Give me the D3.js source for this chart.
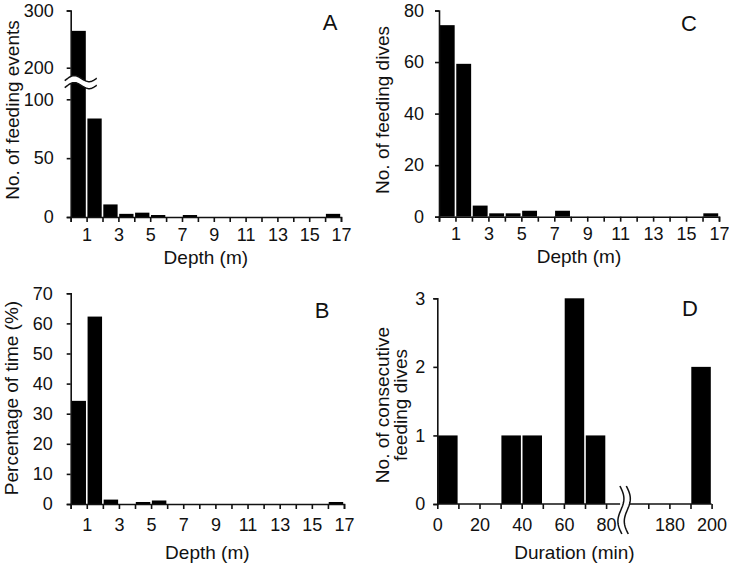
<!DOCTYPE html>
<html><head><meta charset="utf-8">
<script src="https://cdn.jsdelivr.net/npm/d3@7"></script>
<style>
body{margin:0;background:#fff}
svg{display:block}
text{font-family:"Liberation Sans",Arial,Helvetica,sans-serif;fill:#111}
</style>
</head><body>
<svg id="c" width="729" height="572"></svg>
<script>
// ---------------- data ----------------
const depthBinStart = [0,1,2,3,4,5,6,7,8,9,10,11,12,13,14,15,16];
const depthTickValues = [0,1,2,3,4,5,6,7,8,9,10,11,12,13,14,15,16,17];
const depthTickLabels = [1,3,5,7,9,11,13,15,17];
const feedingEventsA = [263,83,10,2,3,1,0,1,0,0,0,0,0,0,0,0,2];
const percentTimeB  = [34,62,1.2,0,0.4,0.9,0,0,0,0,0,0,0,0,0,0,0.4];
const feedingDivesC = [74,59,4,1,1,2,0,2,0,0,0,0,0,0,0,0,1];
const durBinStart = [0,30,40,60,70,190];
const durCounts   = [1,1,1,3,1,2];
const durBinWidth = 10;
const durTickValues = [0,10,20,30,40,50,60,70,80,170,180,190,200];
const durTickLabels = [0,20,40,60,80,180,200];
const yTicksA = [0,50,100,200,300];
const yTicksB = [0,10,20,30,40,50,60,70];
const yTicksC = [0,20,40,60,80];
const yTicksD = [0,1,2,3];

// ---------------- drawing ----------------
const svg = d3.select("#c");
const INK = "#111";
const TICKFS = 18, TITLEFS = 19, LETTERFS = 22;

function styleAxis(g){
  g.select(".domain").attr("stroke", INK).attr("stroke-width", 1.6);
  g.selectAll(".tick line").attr("stroke", INK).attr("stroke-width", 1.6);
  g.selectAll(".tick text").attr("font-size", TICKFS)
    .attr("font-family", '"Liberation Sans",Arial,sans-serif').attr("fill", INK);
}

function depthPanel(cfg){
  const g = svg.append("g");
  const x = d3.scaleLinear().domain([0,17]).range([cfg.x0, cfg.x1]);
  const y = cfg.y;
  g.selectAll("rect.bar").data(cfg.values.map((v,i)=>({s:depthBinStart[i], v})))
    .join("rect").attr("class","bar")
    .attr("x", d => x(d.s) + 0.8)
    .attr("width", d => x(d.s+1) - x(d.s) - 1.6)
    .attr("y", d => y(d.v) - (d.v>0?0.8:0))
    .attr("height", d => d.v>0 ? y(0) - y(d.v) + 0.8 : 0)
    .attr("fill", "#000");
  const xa = g.append("g").attr("transform", `translate(0,${y(0)})`)
    .call(d3.axisBottom(x).tickValues(depthTickValues).tickSizeOuter(0).tickSize(5).tickPadding(cfg.xpad)
      .tickFormat(d => depthTickLabels.includes(d) ? d : ""));
  styleAxis(xa);
  const ya = g.append("g").attr("transform", `translate(${cfg.x0},0)`)
    .call(d3.axisLeft(y).tickValues(cfg.yTicks).tickSizeOuter(0).tickSize(4).tickPadding(cfg.ypad));
  styleAxis(ya);
  g.append("text").attr("x", (cfg.x0+cfg.x1)/2).attr("y", y(0)+cfg.titleOff).attr("dy","0.35em")
    .attr("text-anchor","middle").attr("font-size", TITLEFS).text("Depth (m)");
  g.append("text").attr("transform", `translate(${cfg.tx},${cfg.ty}) rotate(-90)`)
    .attr("text-anchor","middle").attr("dy","0.35em").attr("font-size", TITLEFS).text(cfg.yTitle);
  g.append("text").attr("x", cfg.lx).attr("y", cfg.ly).attr("dy","0.35em")
    .attr("text-anchor","middle").attr("font-size", LETTERFS).text(cfg.letter);
  return {g, x, y};
}

// Panel A (broken y axis)
const yA = d3.scaleLinear().domain([0,100,200,300]).range([217,99.3,67.7,10.5]);
const pA = depthPanel({x0:70.7, x1:341, y:yA, values:feedingEventsA, yTicks:yTicksA, ypad:13,
  xpad:6, titleOff:40,
  yTitle:"No. of feeding events", tx:12, ty:110, letter:"A", lx:330, ly:22});
(function(){
  const cy = (yA(100)+yA(200))/2, xs = 70.7-6, w = 32, amp = 3.6, gap = 7;
  const n = 40;
  const pts = d3.range(n+1).map(i => { const t=i/n; return [xs + t*w, cy - 2.5*t + amp*Math.sin(-2*Math.PI*t + 0.2)]; });
  const top = pts.map(p => [p[0], p[1]-gap/2]);
  const bot = pts.map(p => [p[0], p[1]+gap/2]);
  const poly = top.concat(bot.slice().reverse());
  pA.g.append("path").attr("d", "M"+poly.map(p=>p.join(",")).join("L")+"Z").attr("fill","#fff");
  const line = d3.line();
  pA.g.append("path").attr("d", line(top)).attr("fill","none").attr("stroke",INK).attr("stroke-width",1.5);
  pA.g.append("path").attr("d", line(bot)).attr("fill","none").attr("stroke",INK).attr("stroke-width",1.5);
})();

// Panel C
const yC = d3.scaleLinear().domain([0,80]).range([216.7,10.5]);
depthPanel({x0:439, x1:719, y:yC, values:feedingDivesC, yTicks:yTicksC, ypad:11,
  xpad:6, titleOff:40,
  yTitle:"No. of feeding dives", tx:382, ty:110, letter:"C", lx:689, ly:23});

// Panel B
const yB = d3.scaleLinear().domain([0,70]).range([504,293.3]);
depthPanel({x0:70.7, x1:344, y:yB, values:percentTimeB, yTicks:yTicksB, ypad:14,
  xpad:9, titleOff:48,
  yTitle:"Percentage of time (%)", tx:11, ty:398, letter:"B", lx:322, ly:310});

// Panel D (broken x axis)
(function(){
  const g = svg.append("g");
  const x0 = 437.3, step = 21.1;
  const x = d3.scaleLinear().domain([0,80,160,200]).range([x0, x0+8*step, x0+9*step, x0+13*step]);
  const y = d3.scaleLinear().domain([0,3]).range([504,298.3]);
  g.selectAll("rect.bar").data(durBinStart.map((s,i)=>({s, v:durCounts[i]})))
    .join("rect").attr("class","bar")
    .attr("x", d => x(d.s)+0.8).attr("width", d => x(d.s+durBinWidth)-x(d.s)-1.6)
    .attr("y", d => y(d.v)).attr("height", d => y(0)-y(d.v)).attr("fill","#000");
  const xa = g.append("g").attr("transform", `translate(0,${y(0)})`)
    .call(d3.axisBottom(x).tickValues(durTickValues).tickSizeOuter(0).tickSize(5).tickPadding(9)
      .tickFormat(d => durTickLabels.includes(d) ? d : ""));
  styleAxis(xa);
  xa.select(".domain").remove();
  const bx = x(80) + 17;
  xa.append("line").attr("x1", x(0)).attr("x2", bx-3).attr("stroke",INK).attr("stroke-width",1.6);
  xa.append("line").attr("x1", bx+4).attr("x2", x(200)).attr("stroke",INK).attr("stroke-width",1.6);
  const ya = g.append("g").attr("transform", `translate(${x0},0)`)
    .call(d3.axisLeft(y).tickValues(yTicksD).tickFormat(d3.format("d")).tickSizeOuter(0).tickSize(4).tickPadding(8));
  styleAxis(ya);
  const cy = y(0), h = 48, amp = 3.5, n = 40;
  const pts = d3.range(n+1).map(i => { const t=i/n; return [bx + 2*t + amp*Math.sin(2*Math.PI*t), cy - 18 + t*h]; });
  const l = pts.map(p=>[p[0]-3.2,p[1]]), r = pts.map(p=>[p[0]+3.2,p[1]]);
  g.append("path").attr("d", "M"+l.concat(r.slice().reverse()).map(p=>p.join(",")).join("L")+"Z").attr("fill","#fff");
  g.append("path").attr("d", d3.line()(l)).attr("fill","none").attr("stroke",INK).attr("stroke-width",1.5);
  g.append("path").attr("d", d3.line()(r)).attr("fill","none").attr("stroke",INK).attr("stroke-width",1.5);
  g.append("text").attr("x", (x(0)+x(200))/2).attr("y", y(0)+48).attr("dy","0.35em").attr("text-anchor","middle")
    .attr("font-size", TITLEFS).text("Duration (min)");
  g.append("text").attr("transform", `translate(382,405) rotate(-90)`).attr("dy","0.35em")
    .attr("text-anchor","middle").attr("font-size", TITLEFS).text("No. of consecutive");
  g.append("text").attr("transform", `translate(400,405) rotate(-90)`).attr("dy","0.35em")
    .attr("text-anchor","middle").attr("font-size", TITLEFS).text("feeding dives");
  g.append("text").attr("x",690).attr("y",308).attr("dy","0.35em").attr("text-anchor","middle")
    .attr("font-size", LETTERFS).text("D");
})();
</script>
</body></html>
